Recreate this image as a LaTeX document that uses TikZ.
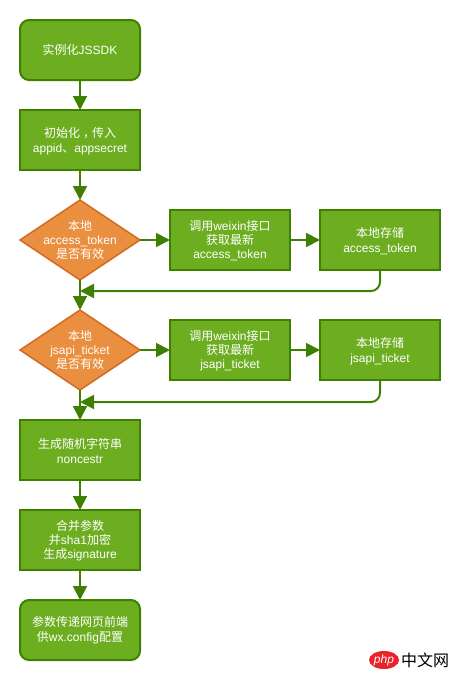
\documentclass[tikz,border=0pt]{standalone}
\usepackage{fontspec}
\setmainfont{Liberation Sans}
\newfontfamily\cjk{Noto Sans CJK SC}
\usetikzlibrary{shapes.geometric,arrows.meta}
\definecolor{gfill}{HTML}{6CAE20}
\definecolor{gline}{HTML}{3F8003}
\definecolor{ofill}{HTML}{EA8E3F}
\definecolor{oline}{HTML}{D2691E}
\definecolor{logored}{HTML}{E8232A}
\newcommand{\zh}[1]{{\cjk #1}}
\newcommand{\lift}{\rule{0pt}{12.2pt}}
\tikzset{
  x=1pt,y=-1pt,
  base/.style={text=white,font=\fontsize{12}{15}\selectfont,align=center,inner sep=0pt,outer sep=0pt},
  procbox/.style={base,draw=gline,fill=gfill,line width=2pt,minimum width=120pt,minimum height=60pt},
  threeline/.style={font=\fontsize{12}{14}\selectfont},
  termbox/.style={procbox,rounded corners=9pt},
  decbox/.style={draw=oline,fill=ofill,line width=1.5pt,diamond,aspect=1.5,inner sep=0pt,outer sep=0pt,minimum width=120pt,minimum height=80pt},
  dectext/.style={base,threeline},
  conn/.style={draw=gline,line width=2pt,-{Triangle[length=14pt,width=14pt,fill=gline]}},
}
\begin{document}
\begin{tikzpicture}
\useasboundingbox (0,0) rectangle (460,680);
\node[termbox] (start) at (80,50) {\zh{实例化}JSSDK};
\node[procbox] (init) at (80,140) {\lift\zh{初始化\hspace*{3pt}，\hspace*{-3pt}传入}\\appid\zh{、}appsecret};
\node[decbox] (d1) at (80,240) {};
\node[dectext] (d1t) at (80,240) {\zh{本地}\\access\_token\\\zh{是否有效}};
\node[procbox,threeline] (call1) at (230,240) {\lift\zh{调用}weixin\zh{接口}\\\zh{获取最新}\\access\_token};
\node[procbox] (store1) at (380,240) {\lift\zh{本地存储}\\access\_token};
\node[decbox] (d2) at (80,350) {};
\node[dectext] (d2t) at (80,350) {\zh{本地}\\jsapi\_ticket\\\zh{是否有效}};
\node[procbox,threeline] (call2) at (230,350) {\lift\zh{调用}weixin\zh{接口}\\\zh{获取最新}\\jsapi\_ticket};
\node[procbox] (store2) at (380,350) {\lift\zh{本地存储}\\jsapi\_ticket};
\node[procbox] (nonce) at (80,450) {\lift\zh{生成随机字符串}\\noncestr};
\node[procbox,threeline] (sign) at (80,540) {\lift\zh{合并参数}\\\zh{并}sha1\zh{加密}\\\zh{生成}signature};
\node[termbox] (end) at (80,630) {\zh{参数传递网页前端}\\\zh{供}wx.config\zh{配置}};
\coordinate (m1) at (80,291);
\coordinate (m2) at (80,402);
\draw[conn] (start) -- (init);
\draw[conn] (init) -- (d1);
\draw[conn] (d1) -- (call1);
\draw[conn] (call1) -- (store1);
\draw[conn] (d1) -- (d2);
\draw[conn,rounded corners=9pt] (store1.south) |- (m1);
\draw[conn] (d2) -- (call2);
\draw[conn] (call2) -- (store2);
\draw[conn] (d2) -- (nonce);
\draw[conn,rounded corners=9pt] (store2.south) |- (m2);
\draw[conn] (nonce) -- (sign);
\draw[conn] (sign) -- (end);
\node[ellipse,fill=logored,inner sep=0pt,minimum width=30pt,minimum height=18pt,text=white,font=\fontsize{12}{12}\selectfont\itshape] (logo) at (384,660) {php};
\node[anchor=west,inner sep=0pt,text=black,font=\fontsize{16}{16}\selectfont\cjk] (site) at (401,660) {中文网};
\end{tikzpicture}
\end{document}
